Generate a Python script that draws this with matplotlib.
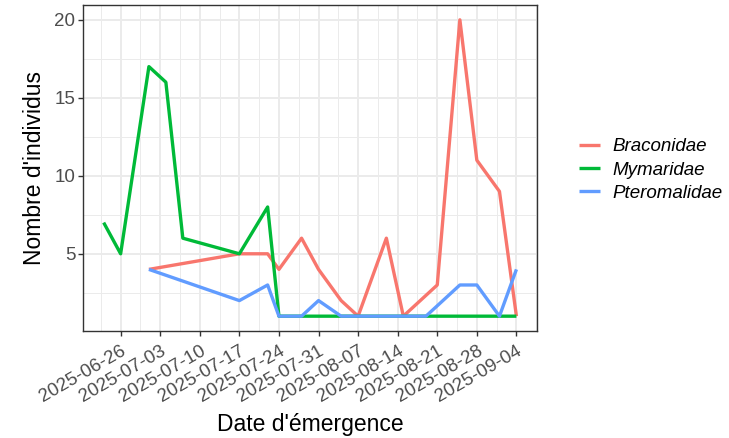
import pandas as pd
import matplotlib
matplotlib.use('Agg')
import matplotlib.pyplot as plt
import matplotlib.dates as mdates
from matplotlib.ticker import MultipleLocator

plt.rcParams['font.family'] = ['Liberation Sans', 'DejaVu Sans']

# donnees
brac_dates = ['2025-07-01', '2025-07-17', '2025-07-22', '2025-07-24', '2025-07-28',
              '2025-07-31', '2025-08-04', '2025-08-07', '2025-08-12', '2025-08-15',
              '2025-08-21', '2025-08-25', '2025-08-28', '2025-09-01', '2025-09-04']
brac_n = [4, 5, 5, 4, 6, 4, 2, 1, 6, 1, 3, 20, 11, 9, 1]

myma_dates = ['2025-06-23', '2025-06-26', '2025-07-01', '2025-07-04', '2025-07-07',
              '2025-07-17', '2025-07-22', '2025-07-24', '2025-07-28', '2025-07-31',
              '2025-08-04', '2025-08-07', '2025-08-12', '2025-08-15', '2025-08-19',
              '2025-08-21', '2025-08-25', '2025-08-28', '2025-09-01', '2025-09-04']
myma_n = [7, 5, 17, 16, 6, 5, 8, 1, 1, 1, 1, 1, 1, 1, 1, 1, 1, 1, 1, 1]

pter_dates = ['2025-07-01', '2025-07-17', '2025-07-22', '2025-07-24', '2025-07-28',
              '2025-07-31', '2025-08-04', '2025-08-07', '2025-08-12', '2025-08-15',
              '2025-08-19', '2025-08-25', '2025-08-28', '2025-09-01', '2025-09-04']
pter_n = [4, 2, 3, 1, 1, 2, 1, 1, 1, 1, 1, 3, 3, 1, 4]

familles = ['Braconidae', 'Mymaridae', 'Pteromalidae']
couleurs = ['#F8766D', '#00BA38', '#619CFF']

x_breaks = pd.date_range('2025-06-26', '2025-09-04', freq='7D')

fig = plt.figure(figsize=(7.29, 4.38), dpi=100)
ax = fig.add_axes([0.1139, 0.2443, 0.6228, 0.7443])

series = [(brac_dates, brac_n), (myma_dates, myma_n), (pter_dates, pter_n)]
for (d, n), nom, c in zip(series, familles, couleurs):
    ax.plot(pd.to_datetime(d), n, color=c, lw=2.4, label=nom, solid_capstyle='butt', zorder=3)

# limites avec expansion 5% facon ggplot
xmin = pd.Timestamp('2025-06-23')
xmax = pd.Timestamp('2025-09-04')
ext = (xmax - xmin) * 0.05
ax.set_xlim(mdates.date2num(xmin - ext), mdates.date2num(xmax + ext))
ax.set_ylim(1 - 0.95, 20 + 0.95)

ax.set_xticks(mdates.date2num(x_breaks))
ax.set_xticklabels([d.strftime('%Y-%m-%d') for d in x_breaks], rotation=30,
                   ha='right', va='top', rotation_mode='anchor')
minor_x = [mdates.date2num(x_breaks[0]) - 3.5 + 7 * i for i in range(len(x_breaks) + 1)]
ax.set_xticks(minor_x, minor=True)
ax.yaxis.set_major_locator(MultipleLocator(5))
ax.yaxis.set_minor_locator(MultipleLocator(2.5))

ax.grid(which='major', color='#EBEBEB', lw=1.4, zorder=0)
ax.grid(which='minor', color='#EBEBEB', lw=0.7, zorder=0)
ax.set_axisbelow(True)
for s in ax.spines.values():
    s.set_color('#333333')
    s.set_linewidth(1.0)

ax.tick_params(axis='both', which='major', length=3.5, width=1.0, color='#333333',
               labelsize=13.5, labelcolor='#4D4D4D', pad=2)
ax.tick_params(axis='x', which='major', pad=5)
ax.tick_params(axis='both', which='minor', length=0)

ax.set_xlabel("Date d'émergence", fontsize=16.5, labelpad=5)
ax.set_ylabel("Nombre d'individus", fontsize=16.5, labelpad=6)

leg = fig.legend(loc='center left', bbox_to_anchor=(0.771, 0.612), frameon=False,
                 handlelength=1.1, handletextpad=0.7, labelspacing=0.33,
                 prop={'size': 13.5, 'style': 'italic'})

plt.savefig('out.png', dpi=100)
plt.close()
